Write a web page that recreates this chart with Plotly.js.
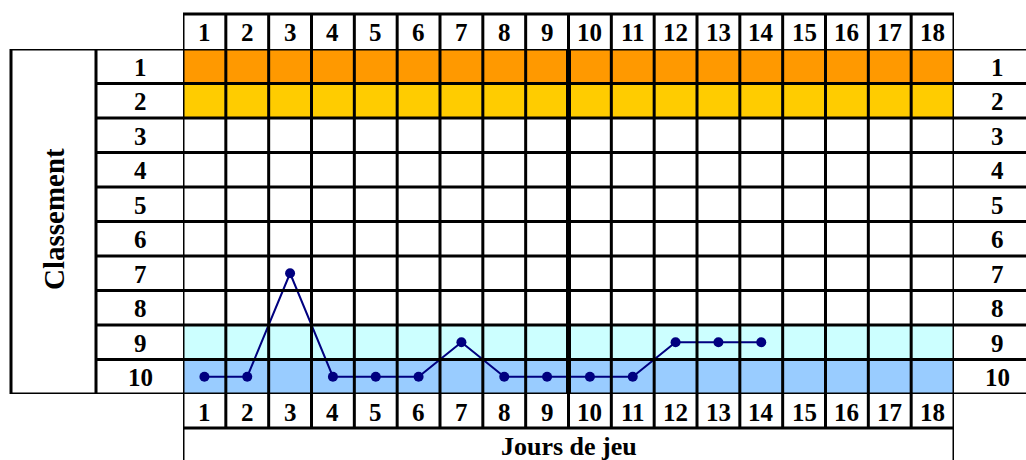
<!DOCTYPE html>
<html><head><meta charset="utf-8">
<script src="https://cdn.plot.ly/plotly-3.0.1.min.js"></script>
<style>html,body{margin:0;padding:0;background:#fff;}#chart{width:1026px;height:460px;}</style>
</head><body><div id="chart"></div>
<script>
// ---- data ----
var days = [1,2,3,4,5,6,7,8,9,10,11,12,13,14];
var ranks = [10,10,7,10,10,10,9,10,10,10,10,9,9,9];
var dayLabels = ['1','2','3','4','5','6','7','8','9','10','11','12','13','14','15','16','17','18'];
var rankLabels = ['1','2','3','4','5','6','7','8','9','10'];
var bandRanks = [1,2,9,10];
var bandColors = ['#FF9900','#FFCC00','#CCFFFF','#99CCFF'];
var midSeason = 9.5;

// ---- layout geometry (paper coordinates) ----
var W = 1026, H = 460, L = 183, R = 954, T = 49, B = 394;
var pw = R - L, ph = B - T;
function px(x){ return (x - L) / pw; }
function py(y){ return (B - y) / ph; }

var nCols = dayLabels.length, nRows = rankLabels.length;
var shapes = [];
var lw = 3, black = '#000';

bandRanks.forEach(function(r, i){
  shapes.push({type:'rect', xref:'x', yref:'y', x0:0.5, x1:nCols+0.5, y0:r-0.5, y1:r+0.5,
    fillcolor:bandColors[i], line:{width:0}, layer:'below'});
});
// vertical column lines
for (var i = 0; i <= nCols; i++) {
  var xv = i + 0.5;
  var outer = (i === 0 || i === nCols);
  shapes.push({type:'line', xref:'x', yref:'paper', x0:xv, x1:xv,
    y0: outer ? py(462) : py(428), y1: py(14), line:{color:black, width:lw}});
}
// thick mid-season line inside the grid
shapes.push({type:'line', xref:'x', yref:'y', x0:midSeason, x1:midSeason, y0:0.5, y1:nRows+0.5,
  line:{color:black, width:5}});
// horizontal row lines
for (var j = 0; j <= nRows; j++) {
  var yv = j + 0.5;
  var outerR = (j === 0 || j === nRows);
  shapes.push({type:'line', xref:'paper', yref:'y', x0: outerR ? px(10) : px(96), x1: px(1030), y0:yv, y1:yv,
    line:{color:black, width:lw}});
}
// header top & bottom header lines
shapes.push({type:'line', xref:'x', yref:'paper', x0:0.5, x1:nCols+0.5, y0:py(14), y1:py(14), line:{color:black, width:lw}});
shapes.push({type:'line', xref:'x', yref:'paper', x0:0.5, x1:nCols+0.5, y0:py(428), y1:py(428), line:{color:black, width:lw}});
// left boxes
shapes.push({type:'line', xref:'paper', yref:'y', x0:px(11), x1:px(11), y0:0.5, y1:nRows+0.5, line:{color:black, width:lw}});
shapes.push({type:'line', xref:'paper', yref:'y', x0:px(96), x1:px(96), y0:0.5, y1:nRows+0.5, line:{color:black, width:lw}});

var fam = '"Liberation Serif", "Times New Roman", serif';
var font = {family:fam, size:25, color:'#000'};
var annotations = [];
dayLabels.forEach(function(t, i){
  annotations.push({xref:'x', yref:'paper', x:i+1, y:py(33), text:'<b>'+t+'</b>', showarrow:false, font:font, xanchor:'center', yanchor:'middle'});
  annotations.push({xref:'x', yref:'paper', x:i+1, y:py(412), text:'<b>'+t+'</b>', showarrow:false, font:font, xanchor:'center', yanchor:'middle'});
});
rankLabels.forEach(function(t, i){
  annotations.push({xref:'paper', yref:'y', x:px(140), y:i+1.03, text:'<b>'+t+'</b>', showarrow:false, font:font, xanchor:'center', yanchor:'middle'});
  annotations.push({xref:'paper', yref:'y', x:px(997), y:i+1.03, text:'<b>'+t+'</b>', showarrow:false, font:font, xanchor:'center', yanchor:'middle'});
});
annotations.push({xref:'paper', yref:'paper', x:0.5, y:py(446), text:'<b>Jours de jeu</b>', showarrow:false,
  font:{family:fam, size:26, color:'#000'}, xanchor:'center', yanchor:'middle'});
annotations.push({xref:'paper', yref:'paper', x:px(54), y:py(219), text:'<b>Classement</b>', showarrow:false, textangle:-90,
  font:{family:fam, size:29, color:'#000'}, xanchor:'center', yanchor:'middle'});

var trace = {x:days, y:ranks, type:'scatter', mode:'lines+markers', cliponaxis:false,
  line:{color:'#000080', width:2}, marker:{color:'#000080', size:10}, hoverinfo:'skip'};

var layout = {
  width:W, height:H, margin:{l:L, r:W-R, t:T, b:H-B, pad:0},
  paper_bgcolor:'#fff', plot_bgcolor:'#fff', showlegend:false,
  xaxis:{range:[0.5, nCols+0.5], showgrid:false, zeroline:false, showticklabels:false, ticks:'', showline:false, fixedrange:true},
  yaxis:{range:[nRows+0.5, 0.5], showgrid:false, zeroline:false, showticklabels:false, ticks:'', showline:false, fixedrange:true},
  shapes:shapes, annotations:annotations
};
Plotly.newPlot('chart', [trace], layout, {staticPlot:true, displayModeBar:false});
</script></body></html>
